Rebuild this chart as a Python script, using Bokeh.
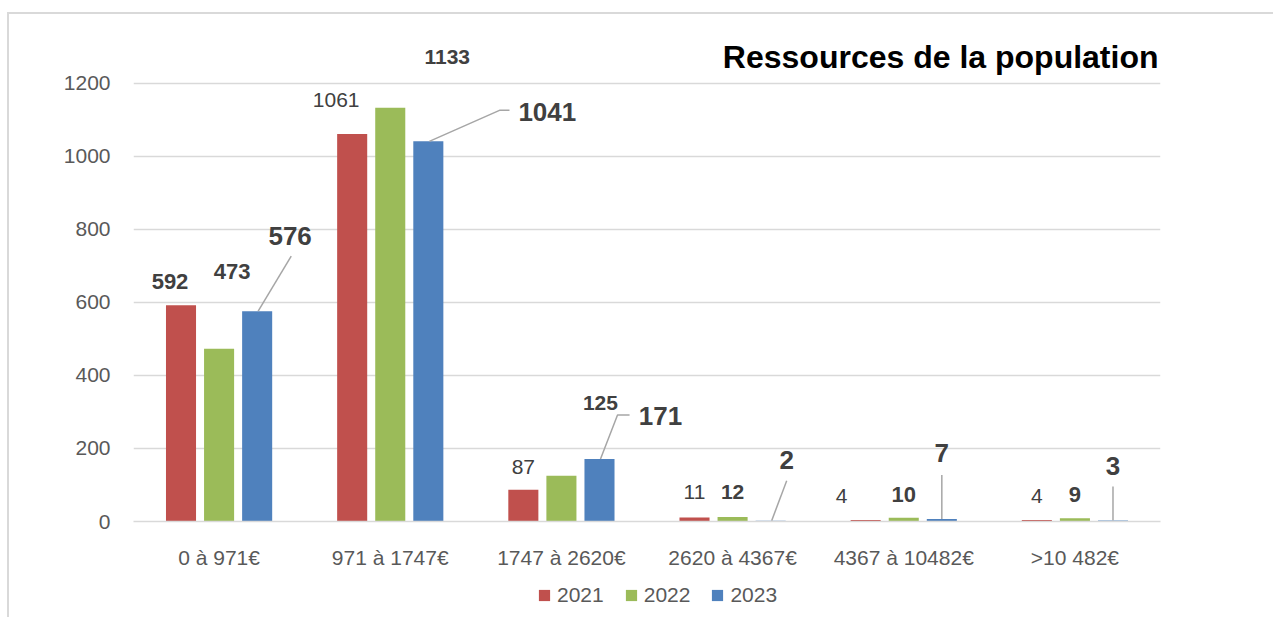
from bokeh.plotting import figure
from bokeh.layouts import column
from bokeh.models import (ColumnDataSource, FixedTicker, LabelSet, Label, Legend, LegendItem)
from bokeh.core.properties import value
from bokeh.embed import file_html
from bokeh.resources import INLINE

# ---------------- data ----------------
categories = ["0 à 971€", "971 à 1747€", "1747 à 2620€", "2620 à 4367€", "4367 à 10482€", ">10 482€"]
years = ["2021", "2022", "2023"]
v2021 = [592, 1061, 87, 11, 4, 4]
v2022 = [473, 1133, 125, 12, 10, 9]
v2023 = [576, 1041, 171, 2, 7, 3]
y_ticks = [0, 200, 400, 600, 800, 1000, 1200]
title_text = "Ressources de la population"

# ---------------- styles ----------------
colors = ["#C0504D", "#9BBB59", "#4F81BD"]
FONT = "Liberation Sans"
Y_TOP = 1350          # headroom above the last gridline for labels and title
FRAME_W, FRAME_H = 1025, 493
PX_X = FRAME_W / len(categories)
PX_Y = FRAME_H / Y_TOP
bar_shift = 38 / PX_X
bar_w = 30 / PX_X

# label offsets (dx px, up px) relative to top of each bar, per series
label_offsets = [
    [(-11, 24), (-16, 34), (0, 23), (0, 25), (-24, 24), (0, 24)],
    [(13, 77), (57, 51), (39, 73), (0, 25), (0, 23), (0, 24)],
    [(33, 75), (119, 29), (61, 43), (16, 61), (0, 66), (0, 54)],
]
label_styles = [
    ["bold", "normal", "normal", "normal", "normal", "normal"],
    ["bold"] * 6,
    ["bold"] * 6,
]
label_sizes = [
    ["22px", "21px", "21px", "21px", "21px", "21px"],
    ["22px", "21px", "21px", "21px", "22px", "22px"],
    ["26px"] * 6,
]
# leader lines for the 2023 labels (dx px, up px) relative to bar top
leaders = [
    [(1, 0), (34, 55)],
    [(1, 0), (71, 31), (81, 31)],
    [(1, 0), (18, 44), (30, 44)],
    [(1, 0), (16, 40)],
    [(0, 0), (0, 44)],
    [(0, 0), (0, 34)],
]

MB_L, MB_R, MB_T, MB_B = 124, 113, 14, 54
W = MB_L + FRAME_W + MB_R + 2
p = figure(width=W, height=MB_T + FRAME_H + MB_B,
           x_range=(0, len(categories)), y_range=(0, Y_TOP),
           output_backend="svg", toolbar_location=None,
           min_border_left=MB_L, min_border_right=MB_R, min_border_top=MB_T, min_border_bottom=MB_B)
p.outline_line_color = None
p.background_fill_color = "white"
p.border_fill_color = "white"

series = [v2021, v2022, v2023]
for j, vals in enumerate(series):
    xs = [i + 0.5 + (j - 1) * bar_shift for i in range(len(categories))]
    src = ColumnDataSource(dict(x=xs, top=vals,
                                txt=[str(v) for v in vals],
                                dx=[o[0] for o in label_offsets[j]],
                                dy=[o[1] for o in label_offsets[j]],
                                fs=label_styles[j], sz=label_sizes[j]))
    p.vbar(x="x", top="top", width=bar_w, bottom=0, source=src,
           fill_color=colors[j], line_color=None)
    labels = LabelSet(x="x", y="top", text="txt", source=src, x_offset="dx", y_offset="dy",
                      text_align="center", text_baseline="middle",
                      text_font=value(FONT), text_font_size="sz", text_font_style="fs",
                      text_color="#404040")
    p.add_layout(labels)
    if j == 2:
        lx, ly = [], []
        for i, pts in enumerate(leaders):
            lx.append([xs[i] + d / PX_X for d, u in pts])
            ly.append([vals[i] + u / PX_Y for d, u in pts])
        p.multi_line(lx, ly, line_color="#a6a6a6", line_width=1.5)

# axes
p.xaxis.ticker = FixedTicker(ticks=[i + 0.5 for i in range(len(categories))])
p.xaxis.major_label_overrides = {i + 0.5: c for i, c in enumerate(categories)}
p.yaxis.ticker = FixedTicker(ticks=y_ticks)
for ax in (p.xaxis[0], p.yaxis[0]):
    ax.major_tick_line_color = None
    ax.minor_tick_line_color = None
    ax.major_label_text_font = FONT
    ax.major_label_text_font_size = "21px"
    ax.major_label_text_color = "#595959"
p.xaxis.axis_line_color = "#d9d9d9"
p.xaxis.axis_line_width = 1.5
p.yaxis.axis_line_color = None
p.yaxis.major_label_standoff = 17
p.xaxis.major_label_standoff = 18
p.xgrid.grid_line_color = None
p.ygrid.grid_line_color = "#d9d9d9"
p.ygrid.grid_line_width = 1.5

# title, drawn at the top right of the plot area
title = Label(x=len(categories), y=y_ticks[-1], x_offset=-2, y_offset=26, text=title_text,
              text_align="right", text_baseline="middle",
              text_font=FONT, text_font_size="32px", text_font_style="bold",
              text_color="black")
p.add_layout(title)

# legend strip below the chart
q = figure(width=W, height=42, x_range=(0, 1), y_range=(0, 1),
           output_backend="svg", toolbar_location=None,
           x_axis_location=None, y_axis_location=None,
           min_border_left=0, min_border_right=0, min_border_top=0, min_border_bottom=0)
q.outline_line_color = None
q.background_fill_color = "white"
q.border_fill_color = "white"
q.grid.visible = False
q.axis.visible = False
# zero-height swatch renderers: only their legend entries show
swatches = [q.vbar(x=[0.5], top=[0], bottom=0, width=0.1, fill_color=c, line_color=None)
            for c in colors]
legend = Legend(items=[LegendItem(label=y, renderers=[r]) for y, r in zip(years, swatches)],
                orientation="horizontal", location=(404, 10),
                border_line_color=None, background_fill_alpha=0,
                label_text_font=FONT, label_text_font_size="21px", label_text_color="#595959",
                glyph_width=14, glyph_height=14, spacing=20, label_standoff=6,
                padding=0, margin=0)
q.add_layout(legend)

layout = column(p, q, spacing=0)
layout.styles = {"border-left": "2px solid #d9d9d9", "border-top": "2px solid #d9d9d9",
                 "margin-top": "12px", "margin-left": "7px"}

open("out.html", "w").write(file_html(layout, INLINE))
